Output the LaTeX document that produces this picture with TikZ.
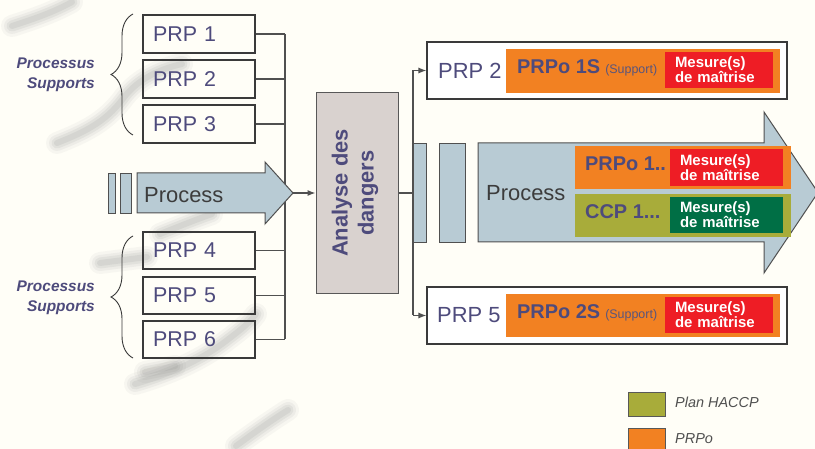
\documentclass[tikz,border=0pt]{standalone}
\usepackage{fontspec}
\setmainfont{Liberation Sans}
\usetikzlibrary{arrows.meta,decorations.pathreplacing}

\definecolor{paper}{HTML}{FFFEF7}
\definecolor{slate}{HTML}{4E4B7C}
\definecolor{flowblue}{HTML}{B8CBD4}
\definecolor{hazard}{HTML}{D9D2CF}
\definecolor{prpo}{HTML}{F28122}
\definecolor{mred}{HTML}{EE1D25}
\definecolor{haccp}{HTML}{A8AC3A}
\definecolor{mgreen}{HTML}{006F45}
\definecolor{edge}{HTML}{3A3A3A}
\definecolor{wire}{HTML}{505050}
\definecolor{darktext}{HTML}{3C3C3C}

\newcommand{\setfs}[2]{\fontsize{#1}{#2}\selectfont}
% soft grey brush mark: the same path stroked several times, wide and faint to narrow
\newcommand{\brushmark}[1]{%
  \foreach \w/\o in {22/0.05,16/0.07,11/0.09,6/0.10}{%
    \draw[draw=black!55, line width=\w bp, opacity=\o, line cap=round,
      line join=round] #1;}}

\begin{document}
\begin{tikzpicture}[x=1bp,y=-1bp,
  wire/.style={draw=wire, line width=1.1bp},
  feed/.style={wire, -{Latex[length=8bp,width=6bp]}},
  prpbox/.style={draw=edge, line width=1.1bp, minimum width=112bp,
    minimum height=38bp, inner sep=0pt, text width=92bp, align=left,
    text=slate, font=\setfs{21.5}{24}},
  flowbar/.style={draw=wire, line width=0.9bp, fill=flowblue, inner sep=0pt},
  flowshape/.style={draw=wire, line width=1bp, fill=flowblue, line join=miter},
  group/.style={text=slate, font=\setfs{15.5}{19.5}\bfseries\itshape,
    align=right, inner sep=0pt},
  brace/.style={draw=edge, line width=0.9bp, decorate,
    decoration={brace, amplitude=22bp}},
  outbox/.style={draw=edge, line width=1.1bp, fill=white, minimum width=360bp,
    minimum height=57bp, inner sep=0pt},
  band/.style={inner sep=0pt, minimum width=#1},
  mesure/.style={inner sep=0pt, minimum width=#1, minimum height=36bp,
    text width=#1-20bp, align=left, text=white,
    font=\setfs{15}{12.5}\bfseries},
  plabel/.style={text=slate, inner sep=0pt, font=\setfs{22}{24}},
  olabel/.style={text=slate, inner sep=0pt, font=\setfs{20}{24}\bfseries},
  ptext/.style={text=darktext, inner sep=0pt, font=\setfs{22}{24}},
  key/.style={draw=edge!85, line width=0.9bp, minimum width=37bp,
    minimum height=24bp, inner sep=0pt},
  keytext/.style={text=darktext!90, inner sep=0pt, font=\setfs{14.5}{16}\itshape}
]
% page and paper tone
\useasboundingbox (0,0) rectangle (815,449);
\fill[paper] (0,0) rectangle (815,449);

% faint brush marks in the paper
\brushmark{(12,26) .. controls (30,20) and (50,14) .. (72,2)}
\brushmark{(57,143) .. controls (85,132) and (105,122) .. (122,100)
  .. controls (135,82) and (155,70) .. (182,64)}
\brushmark{(100,263) -- (147,257)}
\brushmark{(160,234) .. controls (180,226) and (195,220) .. (212,214)}
\brushmark{(135,384) .. controls (170,374) and (200,360) .. (222,344)
  .. controls (235,334) and (248,325) .. (256,314)}
\brushmark{(145,372) -- (175,366)}
\brushmark{(236,446) .. controls (255,432) and (272,420) .. (288,410)}

% bus lines
\coordinate (lbus) at (285,0);
\coordinate (rbus) at (413,0);

% support programmes, upper group
\node[prpbox] (p1) at (199,34) {PRP 1};
\node[prpbox] (p2) at (199,79) {PRP 2};
\node[prpbox] (p3) at (199,124) {PRP 3};
% support programmes, lower group
\node[prpbox, minimum height=37bp] (p4) at (199,250.5) {PRP 4};
\node[prpbox, minimum height=37bp] (p5) at (199,295.5) {PRP 5};
\node[prpbox, minimum height=37bp] (p6) at (199,339.5) {PRP 6};

\foreach \n in {p1,p2,p3,p4,p5,p6}
  \draw[wire] (\n.east) -- (\n.east -| lbus);
\draw[wire] (p1.east -| lbus) -- (p6.east -| lbus);

% braces and group labels
\draw[brace] (133,135) -- (133,14);
\draw[brace] (133,358) -- (133,236);
\node[group, anchor=east] (g1) at (95,75) {Processus\\Supports};
\node[group, anchor=east] (g2) at (95,298) {Processus\\Supports};

% incoming process flow
\node[flowbar, minimum width=7bp, minimum height=40bp] (lb1) at (111.5,193) {};
\node[flowbar, minimum width=11bp, minimum height=40bp] (lb2) at (125.5,193) {};
\draw[flowshape] (137,173) -- (265,173) -- (265,162) -- (293,193)
  -- (265,224) -- (265,213) -- (137,213) -- cycle;
\coordinate (ptip) at (293,193);
\node[ptext, anchor=base west] (ptxt) at (144,203) {Process};

% hazard analysis
\node[draw=edge!85, line width=1bp, fill=hazard, minimum width=82bp,
  minimum height=201bp, inner sep=0pt] (ad) at (357,193) {};
\node[rotate=90, text=slate, inner sep=0pt, align=center,
  font=\setfs{22}{26}\bfseries] (adtxt) at (355,193) {Analyse des\\dangers};
\draw[feed] (ptip) -- (ad.west);
\draw[wire] (ad.east) -- (ad.east -| rbus);

% outcome boxes
\node[outbox] (tb) at (607,70.5) {};
\node[outbox] (bb) at (607,315.5) {};
\draw[wire] (tb.west -| rbus) -- (bb.west -| rbus);
\draw[feed] (tb.west -| rbus) -- (tb.west);
\draw[feed] (bb.west -| rbus) -- (bb.west);

% upper outcome
\node[plabel, anchor=west] (t1) at (438,70.5) {PRP 2};
\node[fill=prpo, band=274bp, minimum height=44bp] (to) at (643,71) {};
\node[mesure=108bp, fill=mred] (tm) at (719,70) {Mesure(s)\\de maîtrise};
\node[olabel, anchor=base west] (tol) at (517,74)
  {PRPo 1S\hspace{5bp}{\mdseries\color{slate!80!gray}\setfs{12.5}{14}(Support)}};

% lower outcome
\node[plabel, anchor=west] (b1) at (437,315.5) {PRP 5};
\node[fill=prpo, band=274bp, minimum height=43bp] (bo) at (643,315.5) {};
\node[mesure=108bp, fill=mred] (bm) at (719,315) {Mesure(s)\\de maîtrise};
\node[olabel, anchor=base west] (bol) at (517,319)
  {PRPo 2S\hspace{5bp}{\mdseries\color{slate!80!gray}\setfs{12.5}{14}(Support)}};

% main process flow
\node[flowbar, minimum width=13bp, minimum height=99bp] (mb1) at (419.5,192.5) {};
\node[flowbar, minimum width=26bp, minimum height=99bp] (mb2) at (452,192.5) {};
\draw[flowshape] (478,143) -- (764,143) -- (764,112) -- (818,192.5)
  -- (764,273) -- (764,242) -- (478,242) -- cycle;
\node[ptext, anchor=base west] (mtxt) at (486,201) {Process};
\node[fill=prpo, band=216bp, minimum height=43bp] (mo) at (683,167.5) {};
\node[fill=haccp, band=216bp, minimum height=43bp] (mh) at (683,215.5) {};
\node[mesure=113bp, fill=mred, minimum height=37bp] (mm1) at (726.5,167.5)
  {Mesure(s)\\de maîtrise};
\node[mesure=113bp, fill=mgreen] (mm2) at (726.5,215) {Mesure(s)\\de maîtrise};
\node[olabel, anchor=base west] (mol) at (585,171) {PRPo 1..};
\node[olabel, anchor=base west] (mhl) at (585,219) {CCP 1...};

% legend
\node[key, fill=haccp] (k1) at (646.5,404) {};
\node[key, fill=prpo] (k2) at (646.5,440) {};
\node[keytext, anchor=base west] (k1t) at (675,407) {Plan HACCP};
\node[keytext, anchor=base west] (k2t) at (675,443) {PRPo};
\end{tikzpicture}
\end{document}
